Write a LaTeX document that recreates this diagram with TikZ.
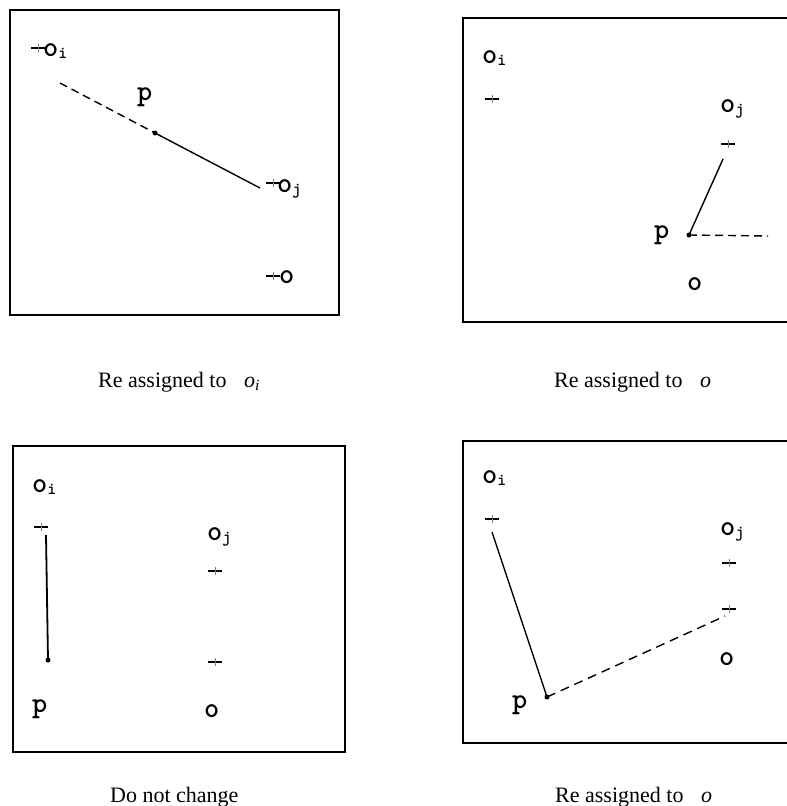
\documentclass[tikz,border=0pt]{standalone}
\usepackage{fontspec}
\setmainfont{Liberation Serif}
\newfontfamily\labfont{lmmonolt10-bold}[Extension=.otf]
\newcommand\sbs[1]{\raisebox{-2.5pt}{\fontsize{17}{17}\selectfont #1}}
\newcommand\plusat[1]{%
  \draw[line width=1.3pt] ([xshift=-7pt]#1) -- ([xshift=7pt]#1);
  \draw[gray, line width=0.5pt] ([yshift=-4pt]#1) -- ([yshift=4pt]#1);}
\begin{document}
\begin{tikzpicture}[x=1pt,y=-1pt,
  frame/.style={line width=1.5pt, black},
  lab/.style={anchor=base west, inner sep=0pt, font=\labfont\fontsize{29}{29}\selectfont},
  captext/.style={anchor=base west, inner sep=0pt, font=\fontsize{22}{22}\selectfont},
  link/.style={line width=1.4pt},
  dashlink/.style={line width=1.4pt, dash pattern=on 8pt off 5pt},
  pdot/.style={circle, fill=black, inner sep=0pt, minimum size=5pt}]
\useasboundingbox (0,0) rectangle (787,806);

% ---------- panel 1 ----------
\draw[frame] (10,10) rectangle (339,315);
\coordinate (A-oi) at (38,48);
\coordinate (A-oj) at (273,183);
\coordinate (A-o)  at (273,276);
\coordinate (A-s)  at (60,83);
\coordinate (A-e)  at (260,188);
\node[pdot] (A-p) at (155,133) {};
\plusat{A-oi} \plusat{A-oj} \plusat{A-o}
\node[lab] (A-loi) at (43,56) {o\sbs{i}};
\node[lab] (A-lp)  at (137,100) {p};
\node[lab] (A-loj) at (277,192) {o\sbs{j}};
\node[lab] (A-lo)  at (279,283) {o};
\draw[dashlink] (A-s) -- (A-p.center);
\draw[link] (A-p.center) -- (A-e);

% ---------- panel 2 ----------
\draw[frame] (787,18) -- (463,18) -- (463,322) -- (787,322);
\coordinate (B-oi) at (492,99);
\coordinate (B-oj) at (728,144);
\coordinate (B-top) at (723,159);
\coordinate (B-e) at (768,236);
\node[pdot] (B-p) at (689,235) {};
\plusat{B-oi} \plusat{B-oj}
\node[lab] (B-loi) at (482,63) {o\sbs{i}};
\node[lab] (B-loj) at (720,112) {o\sbs{j}};
\node[lab] (B-lp)  at (654,238) {p};
\node[lab] (B-lo)  at (687,290) {o};
\draw[link] (B-top) -- (B-p.center);
\draw[dashlink] (B-p.center) -- (B-e);

% ---------- panel 3 ----------
\draw[frame] (13,446) rectangle (345,752);
\coordinate (C-oi) at (41,527);
\coordinate (C-oj) at (215,571);
\coordinate (C-o)  at (215,662);
\coordinate (C-top) at (46,535);
\node[pdot] (C-p) at (48,660) {};
\plusat{C-oi} \plusat{C-oj} \plusat{C-o}
\node[lab] (C-loi) at (32,492) {o\sbs{i}};
\node[lab] (C-loj) at (207,540) {o\sbs{j}};
\node[lab] (C-lp)  at (32,712) {p};
\node[lab] (C-lo)  at (204,717) {o};
\draw[link, line width=1.8pt] (C-top) -- (C-p.center);

% ---------- panel 4 ----------
\draw[frame] (787,441) -- (463,441) -- (463,743) -- (787,743);
\coordinate (D-oi) at (492,519);
\coordinate (D-oj) at (729,563);
\coordinate (D-o)  at (729,609);
\coordinate (D-top) at (492,532);
\coordinate (D-e) at (725,616);
\node[pdot] (D-p) at (547,697) {};
\plusat{D-oi} \plusat{D-oj} \plusat{D-o}
\node[lab] (D-loi) at (482,483) {o\sbs{i}};
\node[lab] (D-loj) at (720,535) {o\sbs{j}};
\node[lab] (D-lp)  at (512,708) {p};
\node[lab] (D-lo)  at (719,665) {o};
\draw[link] (D-top) -- (D-p.center);
\draw[dashlink, dash pattern=on 9pt off 6pt] (D-p.center) -- (D-e);

% ---------- captions ----------
\node[captext] (cap1) at (98,387) {Re assigned to\hspace{0.8em}\textit{o}\textsubscript{\textit{i}}};
\node[captext] (cap2) at (554,387) {Re assigned to\hspace{0.8em}\textit{o}};
\node[captext] (cap3) at (110,802) {Do not change};
\node[captext] (cap4) at (555,802) {Re assigned to\hspace{0.8em}\textit{o}};
\end{tikzpicture}
\end{document}
